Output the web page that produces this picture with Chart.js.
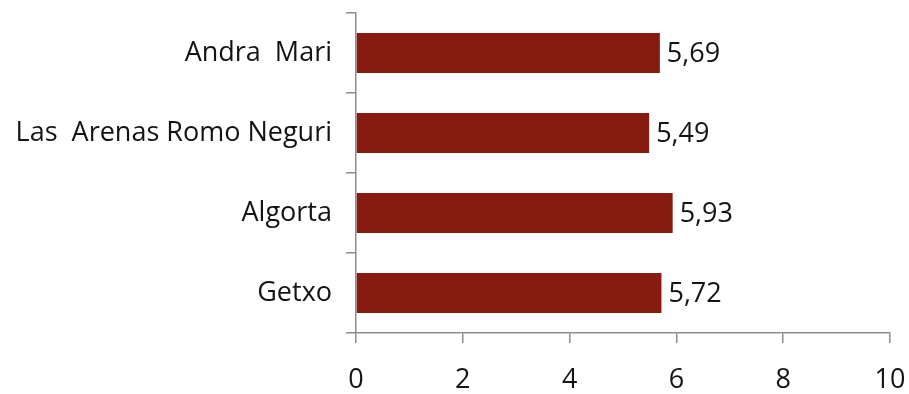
<!DOCTYPE html>
<html>
<head>
<meta charset="utf-8">
<script src="https://cdn.jsdelivr.net/npm/chart.js@4/dist/chart.umd.min.js"></script>
<style>
  html, body { margin: 0; padding: 0; background: #fff; }
  #wrap { width: 909px; height: 394px; }
</style>
</head>
<body>
<div id="wrap"><canvas id="c"></canvas></div>
<script>
const categories = ['Andra  Mari', 'Las  Arenas Romo Neguri', 'Algorta', 'Getxo'];
const values = [5.69, 5.49, 5.93, 5.72];
const xTicks = [0, 2, 4, 6, 8, 10];

const FONT = '"Open Sans", "Noto Sans", sans-serif';
const TEXT = '#141414';
const AXIS = '#8c8c8c';

// Writes each bar's value with a decimal comma just past its end
const valueLabels = {
  id: 'valueLabels',
  afterDatasetsDraw(chart) {
    const ctx = chart.ctx;
    const meta = chart.getDatasetMeta(0);
    ctx.save();
    ctx.font = '27px ' + FONT;
    ctx.fillStyle = TEXT;
    ctx.textAlign = 'left';
    ctx.textBaseline = 'middle';
    meta.data.forEach((bar, i) => {
      const txt = values[i].toFixed(2).replace('.', ',');
      ctx.fillText(txt, bar.x + 7, bar.y + 1);
    });
    ctx.restore();
  }
};

new Chart(document.getElementById('c'), {
  type: 'bar',
  data: {
    labels: categories,
    datasets: [{
      data: values,
      backgroundColor: '#871b10',
      borderWidth: 0,
      barPercentage: 0.5,
      categoryPercentage: 1.0
    }]
  },
  options: {
    indexAxis: 'y',
    responsive: true,
    maintainAspectRatio: false,
    animation: false,
    layout: { padding: { top: 13, right: 19, left: 0, bottom: 0 } },
    plugins: { legend: { display: false }, tooltip: { enabled: false } },
    scales: {
      x: {
        min: 0, max: 10,
        afterBuildTicks(scale) { scale.ticks = xTicks.map(v => ({ value: v })); },
        grid: {
          display: true, drawOnChartArea: false, drawTicks: true,
          tickLength: 10, color: AXIS, lineWidth: 1.5
        },
        border: { display: true, color: AXIS, width: 1.5 },
        ticks: { color: TEXT, font: { family: FONT, size: 27 }, padding: 21 },
        afterFit(scale) {
          scale.height = 61;
          scale.paddingLeft = 0;
          scale.paddingRight = 0;
        }
      },
      y: {
        grid: {
          display: true, drawOnChartArea: false, drawTicks: true,
          tickLength: 10, color: AXIS, lineWidth: 1.5, offset: true
        },
        border: { display: true, color: AXIS, width: 1.5 },
        ticks: { color: TEXT, font: { family: FONT, size: 27 }, padding: 14 },
        afterFit(scale) {
          scale.width = 356;
          scale.paddingTop = 0;
          scale.paddingBottom = 0;
        }
      }
    }
  },
  plugins: [valueLabels]
});
</script>
</body>
</html>
